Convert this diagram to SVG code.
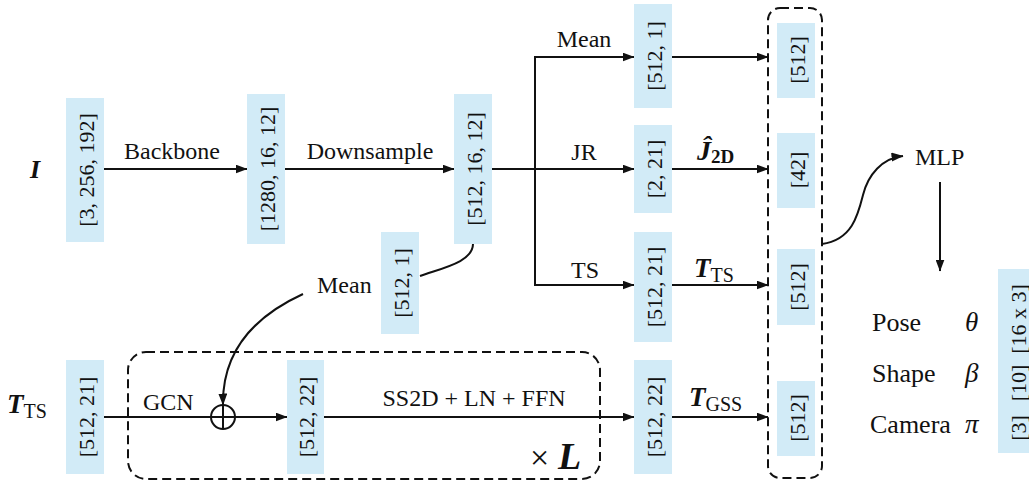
<svg xmlns="http://www.w3.org/2000/svg" width="1029" height="483" viewBox="0 0 1029 483">
<style>
text{font-family:"Liberation Serif","Times New Roman",Tinos,"DejaVu Serif",serif;fill:#111;}
.box{fill:#d2ebf7;}
.bt{font-size:22px;text-anchor:middle;dominant-baseline:central;}
.lb{font-size:24px;}
.mid{text-anchor:middle;}
.mb{font-weight:bold;font-style:italic;}
.sub{font-size:20px;font-style:normal;font-weight:normal;}
.ln{fill:none;stroke:#111;stroke-width:2;}
.ar{marker-end:url(#ah);}
.dash{fill:none;stroke:#111;stroke-width:2;stroke-dasharray:9 5;}
</style>
<defs>
<marker id="ah" markerUnits="userSpaceOnUse" markerWidth="12" markerHeight="9" refX="11.5" refY="4.5" orient="auto">
<path d="M0,0 L12,4.5 L0,9 z" fill="#111"/>
</marker>
</defs>

<g id="block-L">
<rect class="dash" x="128" y="352" width="472" height="127" rx="18"/>
<text x="530" y="469" style="font-size:34px">×</text>
<text class="mb" x="558" y="469" style="font-size:38px">L</text>
</g>
<g id="concat">
<rect class="dash" x="768" y="8" width="54" height="470" rx="12"/>
</g>

<g id="connectors">
<line class="ln ar" x1="104" y1="169" x2="247" y2="169"/>
<line class="ln ar" x1="285" y1="169" x2="454" y2="169"/>
<line class="ln ar" x1="492" y1="169" x2="634" y2="169"/>
<line class="ln" x1="535" y1="56" x2="535" y2="286"/>
<line class="ln ar" x1="534" y1="57" x2="634" y2="57"/>
<line class="ln ar" x1="534" y1="285" x2="634" y2="285"/>
<line class="ln ar" x1="672" y1="57" x2="768" y2="57"/>
<line class="ln ar" x1="672" y1="169" x2="768" y2="169"/>
<line class="ln ar" x1="672" y1="285" x2="768" y2="285"/>
<line class="ln ar" x1="672" y1="417" x2="768" y2="417"/>
<path class="ln" d="M473,244 C473,262 442,268 420,276"/>
<path class="ln ar" d="M303,294 C255,316 222,350 223,405"/>
<line class="ln ar" x1="104" y1="417" x2="287" y2="417"/>
<line class="ln ar" x1="324" y1="417" x2="634" y2="417"/>
<path class="ln ar" d="M822,244 C852,240 858,215 863,195 C868,175 882,158 903,156"/>
<line class="ln ar" x1="940" y1="182" x2="940" y2="271"/>
</g>

<g id="plus">
<circle class="ln" cx="223" cy="417" r="12"/>
<line class="ln" x1="223" y1="405" x2="223" y2="429"/>
</g>

<g id="n-input"><rect class="box" x="66" y="98" width="38" height="144"/><text class="bt" transform="translate(86,170) rotate(-90)">[3, 256, 192]</text></g>
<g id="n-backbone"><rect class="box" x="247" y="94" width="38" height="150"/><text class="bt" transform="translate(267,169) rotate(-90)">[1280, 16, 12]</text></g>
<g id="n-down"><rect class="box" x="454" y="94" width="38" height="150"/><text class="bt" transform="translate(474,169) rotate(-90)">[512, 16, 12]</text></g>
<g id="n-mean2"><rect class="box" x="381" y="232" width="38" height="102"/><text class="bt" transform="translate(401,283) rotate(-90)">[512, 1]</text></g>
<g id="n-mean1"><rect class="box" x="634" y="4" width="38" height="104"/><text class="bt" transform="translate(654,56) rotate(-90)">[512, 1]</text></g>
<g id="n-jr"><rect class="box" x="634" y="125" width="38" height="88"/><text class="bt" transform="translate(654,169) rotate(-90)">[2, 21]</text></g>
<g id="n-ts"><rect class="box" x="634" y="232" width="38" height="110"/><text class="bt" transform="translate(654,287) rotate(-90)">[512, 21]</text></g>
<g id="n-gss"><rect class="box" x="634" y="360" width="38" height="114"/><text class="bt" transform="translate(654,417) rotate(-90)">[512, 22]</text></g>
<g id="n-tts-in"><rect class="box" x="66" y="360" width="38" height="114"/><text class="bt" transform="translate(86,417) rotate(-90)">[512, 21]</text></g>
<g id="n-gcn"><rect class="box" x="287" y="360" width="37" height="114"/><text class="bt" transform="translate(306,417) rotate(-90)">[512, 22]</text></g>
<g id="n-c1"><rect class="box" x="777" y="23" width="38" height="75"/><text class="bt" transform="translate(797,60) rotate(-90)">[512]</text></g>
<g id="n-c2"><rect class="box" x="777" y="133" width="38" height="75"/><text class="bt" transform="translate(797,170) rotate(-90)">[42]</text></g>
<g id="n-c3"><rect class="box" x="777" y="249" width="38" height="76"/><text class="bt" transform="translate(797,287) rotate(-90)">[512]</text></g>
<g id="n-c4"><rect class="box" x="777" y="381" width="38" height="75"/><text class="bt" transform="translate(797,418) rotate(-90)">[512]</text></g>
<g id="n-out"><rect class="box" x="998" y="269" width="38" height="184"/>
<text class="bt" transform="translate(1018,319) rotate(-90)">[16 x 3]</text>
<text class="bt" transform="translate(1018,383) rotate(-90)">[10]</text>
<text class="bt" transform="translate(1018,428) rotate(-90)">[3]</text>
</g>
<g id="n-mlp"><text class="lb" x="915" y="165">MLP</text></g>

<g id="labels">
<text class="mb" x="30" y="178" style="font-size:26px">I</text>
<text class="lb mid" x="172" y="159">Backbone</text>
<text class="lb mid" x="370" y="159">Downsample</text>
<text class="lb mid" x="584" y="47">Mean</text>
<text class="lb mid" x="584" y="160">JR</text>
<text class="lb mid" x="585" y="278">TS</text>
<text class="lb" x="317" y="293">Mean</text>
<text class="lb" x="143" y="410">GCN</text>
<text class="lb mid" x="474" y="406">SS2D + LN + FFN</text>
<text class="mb" x="697" y="160" style="font-size:28px">Ĵ<tspan class="sub" dy="3" style="font-weight:bold;font-size:19px">2D</tspan></text>
<text class="mb" x="694" y="277" style="font-size:27px">T<tspan class="sub" dy="5">TS</tspan></text>
<text class="mb" x="689" y="406" style="font-size:27px">T<tspan class="sub" dy="5">GSS</tspan></text>
<text class="mb" x="7" y="413" style="font-size:27px">T<tspan class="sub" dy="5">TS</tspan></text>
<text class="lb" x="872" y="331" style="font-size:26px">Pose</text>
<text class="lb" x="872" y="382" style="font-size:26px">Shape</text>
<text class="lb" x="870" y="433" style="font-size:26px">Camera</text>
<text class="lb" x="965" y="331" style="font-size:27px;font-style:italic">θ</text>
<text class="lb" x="965" y="382" style="font-size:27px;font-style:italic">β</text>
<text class="lb" x="965" y="433" style="font-size:27px;font-style:italic">π</text>
</g>
</svg>
